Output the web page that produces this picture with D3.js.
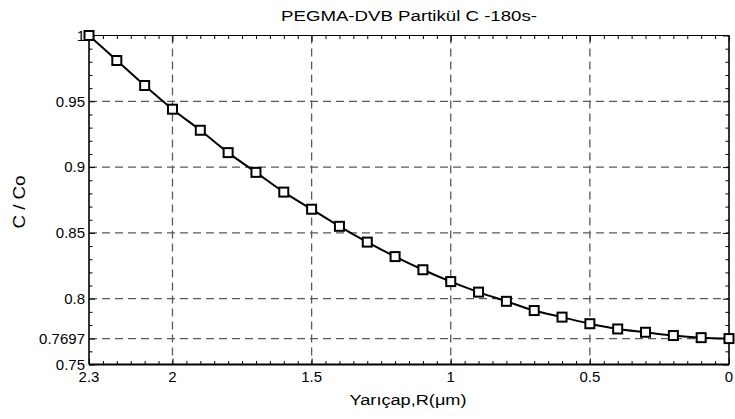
<!DOCTYPE html>
<html>
<head>
<meta charset="utf-8">
<script src="https://cdn.jsdelivr.net/npm/d3@7"></script>
<style>
  body { margin: 0; background: #fff; }
  svg { display: block; font-family: Arial, "Liberation Sans", sans-serif; }
</style>
</head>
<body>
<svg id="chart" width="735" height="419"></svg>
<script>
// data
const radius = [2.3, 2.2, 2.1, 2.0, 1.9, 1.8, 1.7, 1.6, 1.5, 1.4, 1.3, 1.2, 1.1, 1.0, 0.9, 0.8, 0.7, 0.6, 0.5, 0.4, 0.3, 0.2, 0.1, 0.0];
const conc = [1.0, 0.981, 0.962, 0.944, 0.928, 0.911, 0.896, 0.881, 0.868, 0.855, 0.843, 0.832, 0.822, 0.813, 0.805, 0.798, 0.791, 0.786, 0.781, 0.777, 0.7745, 0.772, 0.7704, 0.7697];

const xTicks = [2.3, 2, 1.5, 1, 0.5, 0];
const yTicks = [1, 0.95, 0.9, 0.85, 0.8, 0.7697, 0.75];
const xGrid = [2, 1.5, 1, 0.5];
const yGrid = [0.95, 0.9, 0.85, 0.8, 0.7697];

const titleText = "PEGMA-DVB Partikül C -180s-";
const xLabel = "Yarıçap,R(μm)";
const yLabel = "C / Co";

const svg = d3.select("#chart");
const pLeft = 89, pRight = 729, pTop = 35.5, pBottom = 364.5;

const x = d3.scaleLinear().domain([2.3, 0]).range([pLeft, pRight]);
const y = d3.scaleLinear().domain([0.75, 1]).range([pBottom, pTop]);

// minor ticks
const xMinor = d3.range(0, 2.3, 0.05).filter(v => !xTicks.some(t => Math.abs(t - v) < 1e-6));
const yMinor = d3.range(0.75, 1.0, 0.01).filter(v => !yTicks.some(t => Math.abs(t - v) < 0.002));

// grid
const grid = svg.append("g")
  .attr("stroke", "#5a5a5a")
  .attr("stroke-width", 1.3)
  .attr("stroke-dasharray", "8,5");

grid.selectAll(".gx").data(xGrid).enter().append("line")
  .attr("x1", d => x(d)).attr("x2", d => x(d))
  .attr("y1", pTop).attr("y2", pBottom);

grid.selectAll(".gy").data(yGrid).enter().append("line")
  .attr("x1", pLeft).attr("x2", pRight)
  .attr("y1", d => y(d)).attr("y2", d => y(d));

// axes, ticks pointing inward on all four sides
function tickFmt(d) { return String(d); }

function ticks(axis, pos, vals, size) {
  svg.append("g")
    .attr("transform", pos)
    .call(axis.tickValues(vals).tickSize(size).tickFormat(""));
}

ticks(d3.axisTop(x), `translate(0,${pBottom})`, xMinor, 3.5);
ticks(d3.axisTop(x), `translate(0,${pBottom})`, xTicks, 6);
ticks(d3.axisBottom(x), `translate(0,${pTop})`, xMinor, 3.5);
ticks(d3.axisBottom(x), `translate(0,${pTop})`, xTicks, 6);
ticks(d3.axisRight(y), `translate(${pLeft},0)`, yMinor, 3.5);
ticks(d3.axisRight(y), `translate(${pLeft},0)`, yTicks, 6);
ticks(d3.axisLeft(y), `translate(${pRight},0)`, yMinor, 3.5);
ticks(d3.axisLeft(y), `translate(${pRight},0)`, yTicks, 6);

svg.selectAll(".domain").remove();
svg.selectAll(".tick line").attr("stroke", "#000").attr("stroke-width", 1);

// frame
function frame(x1, y1, x2, y2, w) {
  svg.append("line").attr("x1", x1).attr("y1", y1).attr("x2", x2).attr("y2", y2)
    .attr("stroke", "#000").attr("stroke-width", w);
}
frame(pLeft, pBottom, pRight, pBottom, 2);
frame(pLeft, pTop, pRight, pTop, 1.2);
frame(pLeft, pTop, pLeft, pBottom, 1.6);
frame(pRight, pTop, pRight, pBottom, 1.6);

// tick labels
svg.selectAll(".xl").data(xTicks).enter().append("text")
  .attr("x", d => x(d))
  .attr("y", 381.5)
  .attr("text-anchor", "middle")
  .attr("font-size", "15px")
  .text(tickFmt);

svg.selectAll(".yl").data(yTicks).enter().append("text")
  .attr("x", 85)
  .attr("y", d => y(d) + 5.3)
  .attr("text-anchor", "end")
  .attr("font-size", "15px")
  .text(tickFmt);

// line + markers
const pts = radius.map((r, i) => ({ r: r, c: conc[i] }));

svg.append("path")
  .datum(pts)
  .attr("fill", "none")
  .attr("stroke", "#000")
  .attr("stroke-width", 2)
  .attr("d", d3.line().x(d => x(d.r)).y(d => y(d.c)).curve(d3.curveCatmullRom));

svg.selectAll(".mk").data(pts).enter().append("rect")
  .attr("x", d => x(d.r) - 4.5)
  .attr("y", d => y(d.c) - 4.5)
  .attr("width", 9)
  .attr("height", 9)
  .attr("fill", "#fff")
  .attr("stroke", "#000")
  .attr("stroke-width", 2);

// title and axis labels
svg.append("text")
  .attr("x", (pLeft + pRight) / 2)
  .attr("y", 21)
  .attr("text-anchor", "middle")
  .attr("font-size", "15.5px")
  .attr("textLength", 256)
  .attr("lengthAdjust", "spacingAndGlyphs")
  .text(titleText);

svg.append("text")
  .attr("x", 408)
  .attr("y", 405)
  .attr("text-anchor", "middle")
  .attr("font-size", "15.5px")
  .attr("textLength", 117)
  .attr("lengthAdjust", "spacingAndGlyphs")
  .text(xLabel);

svg.append("text")
  .attr("transform", "translate(25,202) rotate(-90)")
  .attr("text-anchor", "middle")
  .attr("font-size", "16px")
  .attr("textLength", 53)
  .attr("lengthAdjust", "spacingAndGlyphs")
  .text(yLabel);
</script>
</body>
</html>
